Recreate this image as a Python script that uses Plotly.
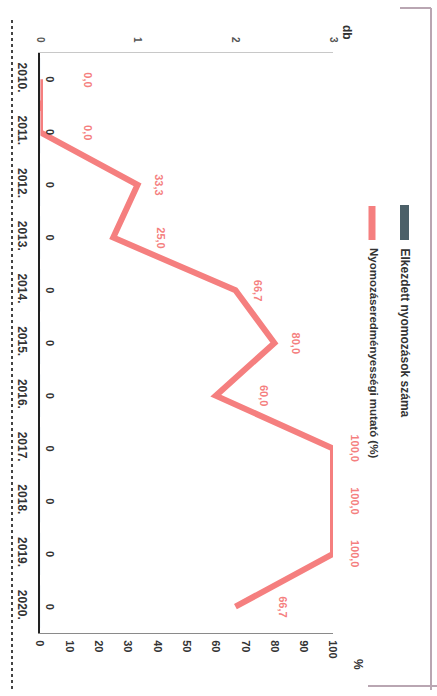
import plotly.graph_objects as go

years = ["2010.", "2011.", "2012.", "2013.", "2014.", "2015.", "2016.", "2017.", "2018.", "2019.", "2020."]
counts = [0, 0, 0, 0, 0, 0, 0, 0, 0, 0, 0]
rates = [0.0, 0.0, 33.3, 25.0, 66.7, 80.0, 60.0, 100.0, 100.0, 100.0, 66.7]
pct_ticks = [0, 10, 20, 30, 40, 50, 60, 70, 80, 90, 100]
cnt_ticks = [0, 1, 2, 3]
bar_name = "Elkezdett nyomozások száma"
line_name = "Nyomozáseredményességi mutató (%)"

W, H = 437, 696
L, R, T, B = 40, 333, 53, 633
PINK = "#f57f7f"
TEAL = "#4b6068"
DARK = "#333333"
FONT = "Liberation Sans"


def px(x, y):
    return (x - L) / (R - L), (B - y) / (B - T)


fig = go.Figure()
fig.add_trace(go.Bar(x=counts, y=years, orientation="h", xaxis="x2", yaxis="y",
                     marker_color=TEAL, showlegend=False))
fig.add_trace(go.Scatter(x=rates, y=years, mode="lines", xaxis="x", yaxis="y",
                         line=dict(color=PINK, width=6), cliponaxis=False, showlegend=False))

ann = []
# line data labels (y given as category index)
for i, v in enumerate(rates):
    big = i == 0 or v == 0 or v < rates[i - 1]
    ann.append(dict(x=v, y=i, xref="x", yref="y", text=f"{v:.1f}".replace(".", ","),
                    textangle=90, showarrow=False, xshift=48 if big else 22,
                    font=dict(family=FONT, size=11, color=PINK, weight="bold")))
# bar data labels
for i, c in enumerate(counts):
    ann.append(dict(x=c, y=i, xref="x2", yref="y", text=str(c), textangle=90,
                    showarrow=False, xshift=10,
                    font=dict(family=FONT, size=11, color=DARK, weight="bold")))
# axis units
ux, uy = px(347, 32)
ann.append(dict(x=ux, y=uy, xref="paper", yref="paper", text="db", textangle=90, showarrow=False,
                xanchor="center", yanchor="middle",
                font=dict(family=FONT, size=12, color=DARK, weight="bold")))
ux, uy = px(358, 664)
ann.append(dict(x=ux, y=uy, xref="paper", yref="paper", text="%", textangle=90, showarrow=False,
                xanchor="center", yanchor="middle",
                font=dict(family=FONT, size=12, color=DARK, weight="bold")))
# legend texts
lx, ly = px(405, 246)
ann.append(dict(x=lx, y=ly, xref="paper", yref="paper", text=bar_name, textangle=90,
                showarrow=False, xanchor="center", yanchor="top",
                font=dict(family=FONT, size=12, color=DARK, weight="bold")))
lx, ly = px(374, 246)
ann.append(dict(x=lx, y=ly, xref="paper", yref="paper", text=line_name, textangle=90,
                showarrow=False, xanchor="center", yanchor="top",
                font=dict(family=FONT, size=11.5, color=DARK, weight="bold")))

shapes = []
# legend symbols
x0, y0 = px(400, 205)
x1, y1 = px(409, 240)
shapes.append(dict(type="rect", xref="paper", yref="paper", x0=x0, x1=x1, y0=y1, y1=y0,
                   fillcolor=TEAL, line_width=0))
x0, y0 = px(372, 206)
x1, y1 = px(372, 240)
shapes.append(dict(type="line", xref="paper", yref="paper", x0=x0, x1=x1, y0=y0, y1=y1,
                   line=dict(color=PINK, width=7)))
# page frame (scan edges)
for (a, b, c, d, col, wd, dash) in [
    (12, 20, 12, 690, "#444444", 2, "dot"),
    (431, 8, 431, 690, "#b9a6b2", 2, "solid"),
    (400, 8, 431, 8, "#b9a6b2", 2, "solid"),
    (368, 686, 437, 686, "#b9a6b2", 2, "solid"),
]:
    xa, ya = px(a, b)
    xb, yb = px(c, d)
    shapes.append(dict(type="line", xref="paper", yref="paper", x0=xa, y0=ya, x1=xb, y1=yb,
                       line=dict(color=col, width=wd, dash=dash)))

fig.update_layout(
    width=W, height=H,
    margin=dict(l=L, r=W - R, t=T, b=H - B),
    paper_bgcolor="white", plot_bgcolor="white",
    annotations=ann, shapes=shapes, showlegend=False,
    xaxis=dict(range=[0, 100], tickvals=pct_ticks, tickangle=90, side="bottom",
               showgrid=False, zeroline=False, showline=True, linecolor="#8a8a8a", linewidth=1,
               ticks="", ticklabelstandoff=4,
               tickfont=dict(family=FONT, size=11, color=DARK, weight="bold")),
    xaxis2=dict(range=[0, 3], tickvals=cnt_ticks, tickangle=90, side="top", overlaying="x",
                showgrid=False, zeroline=False, showline=True, linecolor="#c8c8c8", linewidth=1,
                ticks="", ticklabelstandoff=6,
                tickfont=dict(family=FONT, size=10, color="#555555", weight="bold")),
    yaxis=dict(type="category", categoryorder="array", categoryarray=years,
               range=[len(years) - 0.5, -0.5], autorange=False, tickangle=90,
               showgrid=False, zeroline=False,
               showline=True, linecolor="#222222", linewidth=2, ticks="", ticklabelstandoff=6,
               tickfont=dict(family=FONT, size=12, color=DARK, weight="bold")),
)

fig.write_html("out.html", config={"displayModeBar": False},
               post_script="document.body.style.margin='0';document.body.style.overflow='hidden';")
